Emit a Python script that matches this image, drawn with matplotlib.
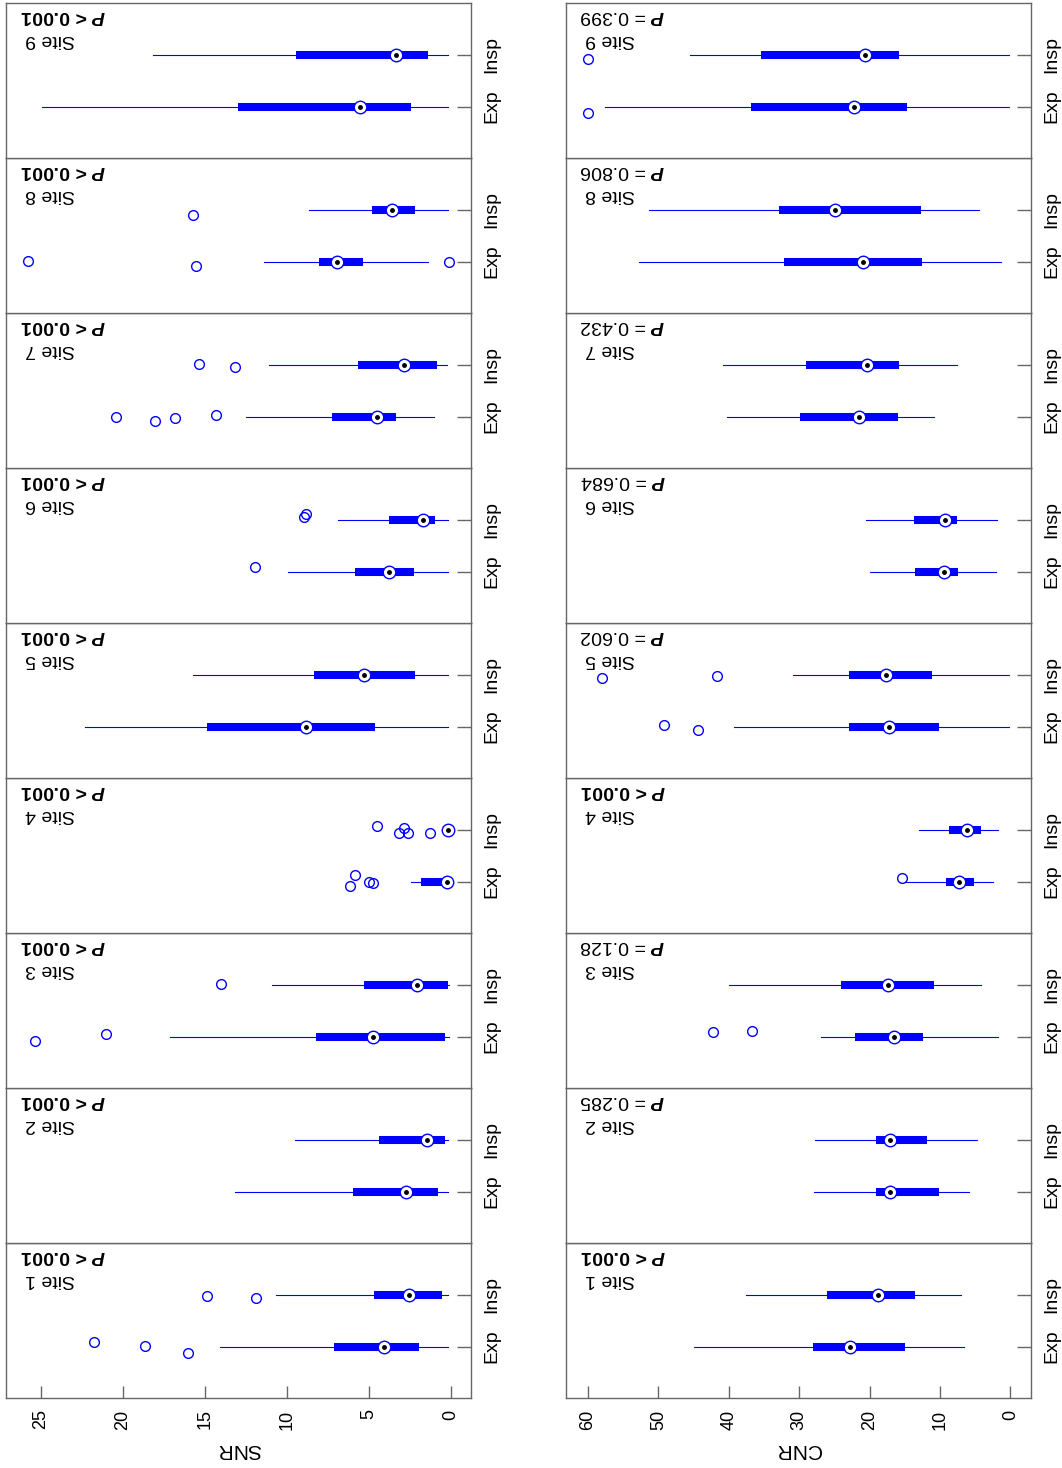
import numpy as np
import matplotlib
matplotlib.use('Agg')
from matplotlib import pyplot as plt

plt.rcParams['font.family'] = ['Liberation Sans', 'DejaVu Sans']
plt.rcParams['mathtext.fontset'] = 'custom'
plt.rcParams['mathtext.it'] = 'Liberation Sans:bold:italic'
plt.rcParams['mathtext.rm'] = 'Liberation Sans'

sites = ['Site %d' % i for i in range(1, 10)]
groups = ['Exp', 'Insp']

# 박스 통계: (아래 수염, q1, 중앙값, q3, 위 수염)
snr_exp = [(0.14, 1.95, 4.09, 7.12, 14.08), (0.14, 0.79, 2.73, 5.98, 13.14),
           (0.08, 0.35, 4.74, 8.24, 17.13), (0.0, 0.10, 0.24, 1.81, 2.42),
           (0.14, 4.60, 8.81, 14.89, 22.29), (0.14, 2.22, 3.74, 5.84, 9.95),
           (1.00, 3.36, 4.50, 7.24, 12.47), (1.36, 5.33, 6.92, 8.01, 11.39),
           (0.14, 2.40, 5.51, 13.00, 24.94)]
snr_insp = [(0.14, 0.51, 2.56, 4.68, 10.68), (0.14, 0.33, 1.42, 4.35, 9.52),
            (0.08, 0.18, 2.03, 5.27, 10.90), (0.0, 0.05, 0.14, 0.30, 0.40),
            (0.14, 2.20, 5.27, 8.34, 15.70), (0.14, 0.94, 1.71, 3.74, 6.90),
            (0.22, 0.85, 2.85, 5.66, 11.07), (0.14, 2.18, 3.58, 4.80, 8.62),
            (0.14, 1.38, 3.32, 9.42, 18.17)]
cnr_exp = [(6.63, 14.96, 22.73, 28.08, 44.94), (5.82, 10.18, 17.05, 19.13, 27.94),
           (1.70, 12.41, 16.53, 22.02, 26.90), (2.51, 5.16, 7.25, 9.14, 14.96),
           (0.14, 10.13, 17.28, 22.87, 39.21), (1.99, 7.43, 9.42, 13.50, 19.89),
           (10.89, 15.91, 21.50, 29.93, 40.30), (1.37, 12.55, 20.98, 32.15, 52.71),
           (0.14, 14.63, 22.26, 36.79, 57.54)]
cnr_insp = [(6.96, 13.59, 18.75, 26.00, 37.55), (4.69, 11.84, 17.05, 19.08, 27.80),
            (4.12, 10.89, 17.33, 24.06, 39.92), (1.80, 4.21, 6.20, 8.76, 13.02),
            (0.14, 11.08, 17.71, 22.87, 30.92), (1.94, 7.53, 9.23, 13.69, 20.46),
            (7.53, 15.86, 20.41, 29.08, 40.77), (4.45, 12.74, 24.86, 32.82, 51.29),
            (0.14, 15.82, 20.60, 35.42, 45.46)]

# 이상치 값과 세로 흔들림(jitter)
snr_exp_out = [[16.05, 18.65, 21.77], [], [21.01, 25.35], [4.74, 4.96, 5.86, 6.12],
               [], [11.96], [14.30, 16.80, 18.04, 20.40], [0.12, 15.54, 25.81], []]
snr_exp_jit = [[-0.116, 0.013, 0.097], [], [0.045, -0.077], [-0.032, -0.013, 0.129, -0.084],
               [], [0.090], [0.039, -0.026, -0.077, -0.013], [0.0, -0.090, 0.019], []]
snr_insp_out = [[11.90, 14.87], [], [14.02], [1.24, 2.60, 2.85, 3.13, 4.52],
                [], [8.93, 8.81], [13.18, 15.38], [15.74], []]
snr_insp_jit = [[-0.065, -0.026], [], [0.019], [-0.065, -0.052, 0.045, -0.058, 0.084],
                [], [0.058, 0.123], [-0.039, 0.019], [-0.097], []]
cnr_exp_out = [[], [], [36.65, 42.19], [15.34], [44.32, 49.2], [], [], [], [60.0]]
cnr_exp_jit = [[], [], [0.103, 0.090], [0.077], [-0.065, 0.026], [], [], [], [-0.116]]
cnr_insp_out = [[], [], [], [], [41.67, 58.06], [], [], [], [60.0]]
cnr_insp_jit = [[], [], [], [], [-0.019, -0.052], [], [], [], [-0.084]]

snr_p = ['< 0.001'] * 9
cnr_p = ['< 0.001', '= 0.285', '= 0.128', '< 0.001', '= 0.602',
         '= 0.684', '= 0.432', '= 0.806', '= 0.399']

snr_ticks = [0, 5, 10, 15, 20, 25]
cnr_ticks = [0, 10, 20, 30, 40, 50, 60]


def draw_box(ax, pos, st, out, jit):
    lo, q1, med, q3, hi = st
    ax.plot([lo, hi], [pos, pos], color='blue', lw=0.8, zorder=2)
    ax.plot([q1, q3], [pos, pos], color='blue', lw=5.8, solid_capstyle='butt', zorder=3)
    if out:
        ax.plot(out, pos + np.array(jit), 'o', mfc='none', mec='blue', ms=7, mew=1, zorder=4)
    ax.plot([med], [pos], 'o', mfc='white', mec='blue', ms=9, mew=1, zorder=5)
    ax.plot([med], [pos], 'o', color='black', ms=2.5, zorder=6)


W, H = 1062, 1468
fig = plt.figure(figsize=(W / 100, H / 100), dpi=100)

cols = [
    (6, snr_exp, snr_insp, snr_exp_out, snr_exp_jit, snr_insp_out, snr_insp_jit,
     snr_p, (27.13, -1.24), snr_ticks, 'SNR'),
    (566, cnr_exp, cnr_insp, cnr_exp_out, cnr_exp_jit, cnr_insp_out, cnr_insp_jit,
     cnr_p, (63.12, -2.94), cnr_ticks, 'CNR'),
]

for (x0, exp_st, insp_st, eo, ej, io, ij, pv, xl, ticks, name) in cols:
    for k in range(9):
        bottom = (H - 1398.3 + 155 * k) / H
        ax = fig.add_axes([x0 / W, bottom, 465 / W, 155 / H])
        draw_box(ax, 1, exp_st[k], eo[k], ej[k])
        draw_box(ax, 2, insp_st[k], io[k], ij[k])
        ax.set_xlim(*xl)
        ax.set_ylim(0, 3)
        for s in ax.spines.values():
            s.set_color('#666666')
            s.set_linewidth(1.0)
        ax.set_yticks([1, 2])
        ax.set_yticklabels(groups, rotation=90, va='center')
        ax.tick_params(axis='y', direction='in', length=10, width=1, color='#666666',
                       left=False, right=True, labelleft=False, labelright=True,
                       labelsize=14, pad=9)
        ax.set_xticks(ticks)
        if k == 0:
            ax.set_xticklabels([str(t) for t in ticks], rotation=90)
            ax.tick_params(axis='x', direction='in', length=9, width=1, color='#666666',
                           labelsize=13, pad=8)
        else:
            ax.tick_params(axis='x', length=0, labelbottom=False)

        weight = 'bold' if pv[k].startswith('<') else 'normal'
        ax.text(0.030, 0.924, '$P$ ' + pv[k], transform=ax.transAxes, rotation=180,
                ha='left', va='center', fontsize=14, fontweight=weight)
        ax.text(0.041, 0.769, sites[k], transform=ax.transAxes, rotation=180,
                ha='left', va='center', fontsize=14)

    fig.text((x0 + 232.5) / W, (H - 1450) / H, name, rotation=180,
             ha='center', va='center', fontsize=15)

fig.savefig('out.png', dpi=100)
